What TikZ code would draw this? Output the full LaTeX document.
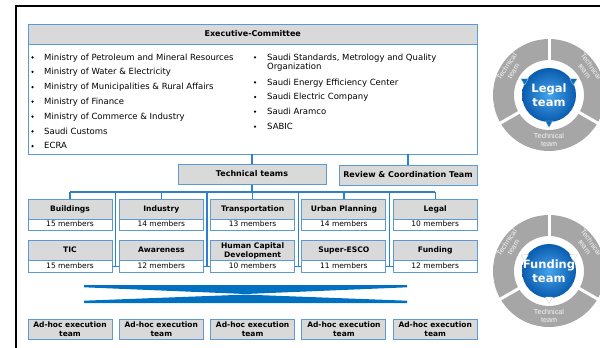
\documentclass[tikz,border=0pt]{standalone}
\usepackage{fontspec}
\setmainfont{DejaVu Sans}
\newfontfamily\sectorfont{Liberation Sans}
\usetikzlibrary{calc}

\definecolor{bordblue}{HTML}{5B9BD5}
\definecolor{linkblue}{HTML}{2E7FCC}
\definecolor{cellgray}{HTML}{D9D9D9}
\definecolor{ringgray}{HTML}{A6A6A6}
\definecolor{deepblue}{HTML}{0070C0}
\definecolor{ballin}{HTML}{45A3EC}
\definecolor{ballout}{HTML}{0A5CAE}

\tikzset{
  link/.style={draw=linkblue, line width=1.2pt},
  cellbase/.style={draw=bordblue, line width=0.9pt, inner sep=0pt, minimum width=84pt},
  headcell/.style={cellbase, fill=cellgray, minimum height=20pt,
    font=\bfseries\fontsize{7.6}{9.6}\selectfont, align=center},
  onelinehead/.style={text height=5.8pt, text depth=1.4pt},
  memcell/.style={cellbase, fill=white, minimum height=11.5pt,
    font=\fontsize{7.5}{8.5}\selectfont, text height=5.6pt, text depth=1.2pt},
  bigbox/.style={draw=bordblue, line width=0.9pt, fill=cellgray, inner sep=0pt,
    minimum height=20pt, font=\bfseries\fontsize{8}{9.6}\selectfont,
    text height=6pt, text depth=1.5pt},
  adhoc/.style={cellbase, fill=cellgray, minimum height=19.7pt,
    font=\bfseries\fontsize{7.5}{9.8}\selectfont, align=center},
  item/.style={anchor=mid west, inner sep=0pt, font=\fontsize{8.5}{10}\selectfont},
  sector/.style={font=\sectorfont\fontsize{7.2}{8}\selectfont, text=white!93!gray,
    align=center, inner sep=0pt},
  balltext/.style={font=\bfseries\fontsize{11.5}{13.5}\selectfont, text=white,
    align=center, inner sep=0pt}
}

\begin{document}
\begin{tikzpicture}[x=1pt, y=-1pt]
\useasboundingbox (0,0) rectangle (600,348);
\clip (0,0) rectangle (600,348);

% outer frame
\draw[line width=2pt] (16,350) -- (16,5.5) -- (602,5.5);

% executive committee
\node[draw=bordblue, line width=0.9pt, minimum width=449.5pt, minimum height=130pt,
  inner sep=0pt] (exec) at (252.75,89) {};
\node[bigbox, minimum width=449.5pt] (exechead) at (252.75,34) {Executive-Committee};

\foreach \yy in {57.3,71.9,87.0,101.7,116.5,131.3,146} \fill (32.5,\yy) circle (1.25pt);
\node[item] (l1) at (44,57.3) {Ministry of Petroleum and Mineral Resources};
\node[item] (l2) at (44,71.9) {Ministry of Water \& Electricity};
\node[item] (l3) at (44,87.0) {Ministry of Municipalities \& Rural Affairs};
\node[item] (l4) at (44,101.7) {Ministry of Finance};
\node[item] (l5) at (44,116.5) {Ministry of Commerce \& Industry};
\node[item] (l6) at (44,131.3) {Saudi Customs};
\node[item] (l7) at (44,146) {ECRA};

\foreach \yy in {57.3,82.3,97,111.7,126.7} \fill (255,\yy) circle (1.25pt);
\node[item] (r1) at (267,57.3) {Saudi Standards, Metrology and Quality};
\node[item] (r1b) at (267,67.2) {Organization};
\node[item] (r2) at (267,82.3) {Saudi Energy Efficiency Center};
\node[item] (r3) at (267,97) {Saudi Electric Company};
\node[item] (r4) at (267,111.7) {Saudi Aramco};
\node[item] (r5) at (267,126.7) {SABIC};

% second level
\node[bigbox, minimum width=148pt] (tech) at (252,174.2) {Technical teams};
\node[bigbox, minimum width=138pt] (review) at (408,175.6) {Review \& Coordination Team};
\draw[link] (exec.south -| tech.north) -- (tech.north);
\draw[link] (exec.south -| review.north) -- (review.north);

% technical team cells
\node[headcell, onelinehead] (h1) at (70,209) {Buildings};
\node[headcell, onelinehead] (h2) at (161.3,209) {Industry};
\node[headcell, onelinehead] (h3) at (252.6,209) {Transportation};
\node[headcell, onelinehead] (h4) at (343.9,209) {Urban Planning};
\node[headcell, onelinehead] (h5) at (435.2,209) {Legal};
\node[memcell] (m1) at (70,224.75) {15 members};
\node[memcell] (m2) at (161.3,224.75) {14 members};
\node[memcell] (m3) at (252.6,224.75) {13 members};
\node[memcell] (m4) at (343.9,224.75) {14 members};
\node[memcell] (m5) at (435.2,224.75) {10 members};

\node[headcell, onelinehead] (h6) at (70,250.5) {TIC};
\node[headcell, onelinehead] (h7) at (161.3,250.5) {Awareness};
\node[headcell] (h8) at (252.6,250.5) {Human Capital\\[-0.6pt]Development};
\node[headcell, onelinehead] (h9) at (343.9,250.5) {Super-ESCO};
\node[headcell, onelinehead] (h10) at (435.2,250.5) {Funding};
\node[memcell] (m6) at (70,266.2) {15 members};
\node[memcell] (m7) at (161.3,266.2) {12 members};
\node[memcell] (m8) at (252.6,266.2) {10 members};
\node[memcell] (m9) at (343.9,266.2) {11 members};
\node[memcell] (m10) at (435.2,266.2) {12 members};

% bus and drops
\coordinate (busL) at (70,192);
\coordinate (busR) at (435.2,192);
\draw[link] (tech.south) -- (tech.south |- busL);
\draw[link] (busL) -- (busR);
\foreach \i in {1,...,5} \draw[link] (h\i.north |- busL) -- (h\i.north);
\coordinate (g1) at (115.65,192);
\coordinate (g2) at (206.95,192);
\coordinate (g3) at (298.25,192);
\coordinate (g4) at (389.55,192);
\draw[link] (g1) -- (g1 |- m6.east);
\draw[link] (g2) -- (g2 |- m7.east);
\draw[link] (g3) -- (g3 |- m8.east);
\draw[link] (g4) -- (g4 |- m9.east);
\draw[link] (m6.east) -- (m7.west);
\draw[link] (m7.east) -- (m8.west);
\draw[link] (m8.east) -- (m9.west);
\draw[link] (m9.east) -- (m10.west);

% converging band
\fill[deepblue] (84,285) -- (407,285) -- (407,287.3) -- (245.5,294) -- (84,287.3) -- cycle;
\fill[deepblue] (84,303) -- (407,303) -- (407,300.7) -- (245.5,294.6) -- (84,300.7) -- cycle;

% ad-hoc execution teams
\node[adhoc] (a1) at (70,329.2) {Ad-hoc execution\\team};
\node[adhoc] (a2) at (161.3,329.2) {Ad-hoc execution\\team};
\node[adhoc] (a3) at (252.6,329.2) {Ad-hoc execution\\team};
\node[adhoc] (a4) at (343.9,329.2) {Ad-hoc execution\\team};
\node[adhoc] (a5) at (435.2,329.2) {Ad-hoc execution\\team};

% cycle diagrams
\coordinate (L) at (549,95);
\coordinate (F) at (549,271);
\foreach \c/\lbl/\tip in {L/{Legal\\team}/deepblue, F/{Funding\\team}/white}{
  \fill[ringgray, even odd rule] (\c) circle (56pt) (\c) circle (35pt);
  \foreach \a in {90,210,330}
    \draw[white, line width=3pt] ($(\c)+(\a:33pt)$) -- ($(\c)+(\a:58pt)$);
  \shade[inner color=ballin, outer color=ballout] (\c) circle (27pt);
  \foreach \a in {150,30,270}
    \filldraw[fill=\tip, draw=gray!40, line width=0.3pt]
      ($(\c)+(\a:32.5pt)$) -- ($(\c)+(\a:26pt)+(\a+90:3.6pt)$)
      -- ($(\c)+(\a:26pt)+(\a-90:3.6pt)$) -- cycle;
  \node[balltext] (\c ball) at (\c) {\lbl};
  \node[sector, rotate=56] (\c s1) at ($(\c)+(146:47pt)$) {Technical\\team};
  \node[sector, rotate=-54] (\c s2) at ($(\c)+(34:47pt)$) {Technical\\team};
  \node[sector] (\c s3) at ($(\c)+(270:45pt)$) {Technical\\team};
}
\end{tikzpicture}
\end{document}
